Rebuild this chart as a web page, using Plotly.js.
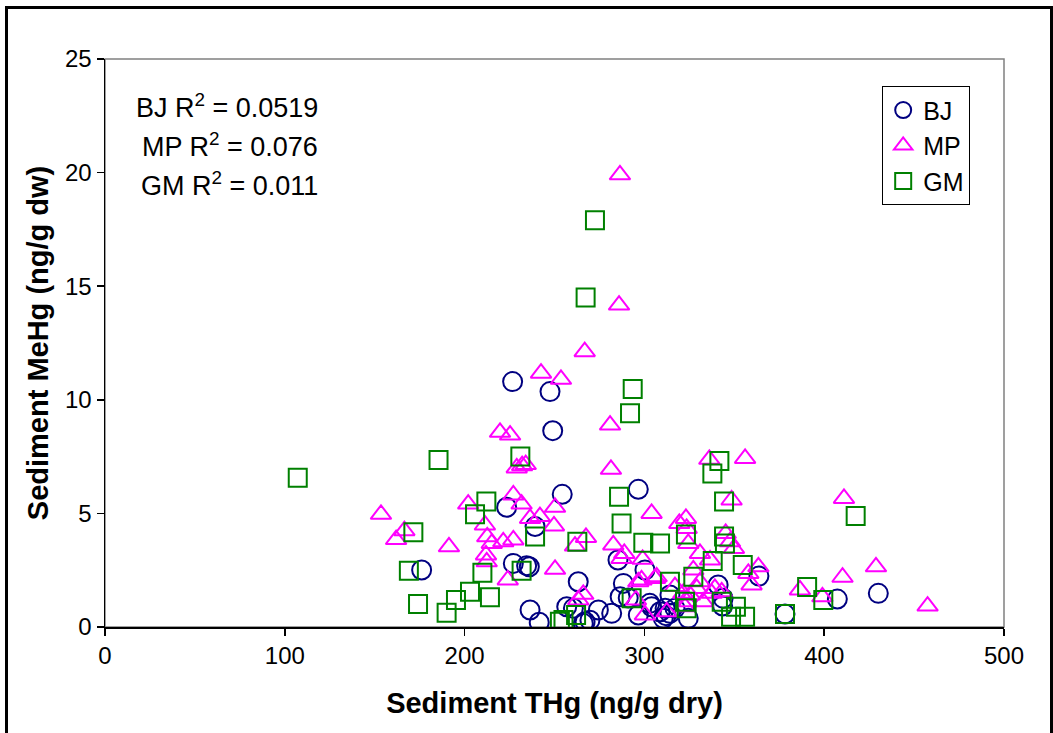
<!DOCTYPE html>
<html>
<head>
<meta charset="utf-8">
<script src="https://cdn.plot.ly/plotly-3.0.1.min.js"></script>
<style>
  html, body { margin: 0; padding: 0; background: #fff; }
  #frame { position: absolute; left: 5px; top: 6px; width: 1042px; height: 740px;
           border-top: 3px solid #000; border-left: 3px solid #000; border-right: 3px solid #000; }
  #chart { position: absolute; left: 0; top: 0; width: 1053px; height: 733px; }
</style>
</head>
<body>
<div id="chart"></div>
<div id="frame"></div>
<script>
// ---- Data ----
const bjX = [176.1, 226.7, 247.5, 249.0, 223.4, 239.2, 254.3, 296.6, 227.1, 234.5, 236.0, 236.4, 241.5, 263.2, 256.8, 260.5, 267.0, 266.0, 274.4, 281.8, 286.5, 291.0, 288.3, 285.3, 300.3, 296.6, 304.0, 308.7, 311.5, 314.2, 310.5, 317.0, 314.2, 324.4, 341.0, 343.8, 343.5, 363.7, 378.2, 407.3, 430.1, 269.7, 303.0, 312.0];
const bjY = [2.51, 10.8, 10.36, 8.64, 5.27, 4.42, 5.84, 6.06, 2.80, 2.70, 2.65, 0.75, 0.21, 1.99, 0.89, 0.82, 0.23, 0.16, 0.75, 0.60, 1.33, 1.28, 1.92, 2.95, 2.51, 0.53, 0.89, 0.67, 0.82, 0.60, 0.38, 0.82, 1.41, 0.38, 1.85, 1.26, 0.92, 2.24, 0.57, 1.23, 1.48, 0.30, 1.04, 0.50];

const mpX = [153.5, 166.5, 161.9, 219.7, 225.3, 229.0, 232.0, 234.0, 227.1, 231.7, 202.0, 236.4, 241.9, 211.3, 212.6, 215.1, 221.5, 227.1, 211.9, 212.3, 191.3, 224.0, 280.9, 281.4, 250.3, 304.0, 249.7, 261.4, 267.5, 282.7, 288.8, 299.0, 306.8, 296.6, 250.3, 266.0, 263.2, 295.3, 300.3, 312.4, 317.0, 336.1, 356.0, 348.5, 319.4, 323.1, 323.5, 324.4, 345.2, 347.6, 349.8, 330.9, 336.5, 363.4, 357.8, 359.6, 327.2, 330.9, 329.1, 337.4, 343.0, 332.7, 386.5, 322.6, 411.0, 428.8, 410.2, 399.0, 457.5, 286.4, 285.9, 266.8, 242.5, 253.6, 287.3, 298.4, 305.9, 321.6, 325.3, 323.5, 339.2];
const mpY = [4.96, 4.24, 3.85, 8.57, 8.45, 7.00, 7.10, 7.15, 5.81, 5.41, 5.41, 4.78, 4.86, 4.49, 3.97, 3.68, 3.75, 3.83, 3.17, 2.87, 3.53, 2.07, 8.89, 6.94, 5.27, 5.00, 4.45, 3.56, 3.94, 3.61, 3.24, 2.98, 2.21, 1.99, 2.54, 1.44, 1.19, 1.19, 0.53, 0.67, 1.78, 7.38, 7.42, 5.59, 4.56, 4.78, 4.34, 3.68, 4.12, 3.75, 3.46, 3.24, 2.95, 2.65, 2.36, 1.85, 2.51, 1.99, 1.70, 1.48, 1.55, 1.11, 1.63, 0.89, 5.66, 2.65, 2.19, 1.33, 0.92, 19.9, 14.17, 12.12, 11.17, 10.9, 3.02, 2.07, 2.14, 1.48, 1.41, 1.11, 1.70];

const gmX = [107.2, 171.5, 169.0, 174.1, 185.5, 231.0, 212.1, 205.8, 239.2, 209.9, 231.7, 203.0, 195.2, 214.1, 190.0, 292.0, 285.9, 287.3, 262.7, 299.4, 308.7, 253.0, 255.0, 262.0, 292.9, 314.2, 341.7, 337.8, 344.3, 323.1, 344.3, 344.8, 338.0, 354.7, 327.2, 343.0, 350.9, 348.2, 356.0, 378.2, 390.5, 322.6, 323.5, 417.5, 399.5, 272.5, 267.3, 293.5];
const gmY = [6.57, 4.17, 2.48, 1.01, 7.35, 7.50, 5.52, 4.96, 3.98, 2.39, 2.48, 1.55, 1.19, 1.31, 0.63, 9.41, 5.73, 4.56, 3.75, 3.71, 3.68, 0.23, 0.31, 0.53, 1.26, 1.99, 7.31, 6.76, 5.52, 4.07, 3.98, 3.68, 2.90, 2.73, 2.21, 1.11, 0.89, 0.45, 0.45, 0.57, 1.76, 1.11, 0.82, 4.89, 1.19, 17.9, 14.5, 10.48];

const seriesNames = ["BJ", "MP", "GM"];
const r2Labels = ["BJ R<sup>2</sup> = 0.0519", "MP R<sup>2</sup> = 0.076", "GM R<sup>2</sup> = 0.011"];
const xTicks = [0, 100, 200, 300, 400, 500];
const yTicks = [0, 5, 10, 15, 20, 25];

const FONT = "Liberation Sans, Arial, sans-serif";

const traces = [
  { x: bjX, y: bjY, name: seriesNames[0], type: "scatter", mode: "markers",
    marker: { symbol: "circle-open", size: 19, color: "#000080", line: { width: 2, color: "#000080" } } },
  { x: mpX, y: mpY, name: seriesNames[1], type: "scatter", mode: "markers",
    marker: { symbol: "triangle-up-open", size: 18, color: "#FF00FF", line: { width: 2, color: "#FF00FF" } } },
  { x: gmX, y: gmY, name: seriesNames[2], type: "scatter", mode: "markers",
    marker: { symbol: "square-open", size: 18, color: "#008000", line: { width: 2, color: "#008000" } } }
];

const annYs = [0.917, 0.849, 0.780];
const annotations = r2Labels.map((t, i) => ({
  text: t, xref: "paper", yref: "paper", x: 0.239, y: annYs[i],
  xanchor: "right", yanchor: "middle", showarrow: false,
  font: { family: FONT, size: 27, color: "#000" }
}));

const layout = {
  width: 1053, height: 733,
  margin: { l: 105, r: 49, t: 59, b: 106 },
  paper_bgcolor: "#fff", plot_bgcolor: "#fff",
  showlegend: true,
  legend: {
    x: 0.8645, y: 0.952, xanchor: "left", yanchor: "top",
    bgcolor: "#fff", bordercolor: "#000", borderwidth: 1,
    font: { family: FONT, size: 25, color: "#000" },
    itemwidth: 30, tracegroupgap: 0
  },
  xaxis: {
    range: [0, 500], tickvals: xTicks, ticktext: xTicks.map(String),
    showgrid: false, zeroline: false, showline: true, linecolor: "#000", linewidth: 1.5,
    ticks: "outside", ticklen: 7, tickcolor: "#000", tickwidth: 1.5,
    tickfont: { family: FONT, size: 24, color: "#000" },
    title: { text: "Sediment THg (ng/g dry)", font: { family: FONT, size: 29, color: "#000", weight: "bold" }, standoff: 24 },
    automargin: false, fixedrange: true
  },
  yaxis: {
    range: [0, 25], tickvals: yTicks, ticktext: yTicks.map(String),
    showgrid: false, zeroline: false, showline: true, linecolor: "#000", linewidth: 1.5,
    ticks: "outside", ticklen: 7, tickcolor: "#000", tickwidth: 1.5,
    tickfont: { family: FONT, size: 24, color: "#000" },
    title: { text: "Sediment MeHg (ng/g dw)", font: { family: FONT, size: 29, color: "#000", weight: "bold" }, standoff: 8 },
    automargin: false, fixedrange: true
  },
  shapes: [
    { type: "rect", xref: "paper", yref: "paper", x0: 0, x1: 1, y0: 0, y1: 1,
      line: { color: "#808080", width: 1.5 }, layer: "below" }
  ],
  annotations: annotations
};

Plotly.newPlot("chart", traces, layout, { displayModeBar: false, staticPlot: true });
</script>
</body>
</html>
